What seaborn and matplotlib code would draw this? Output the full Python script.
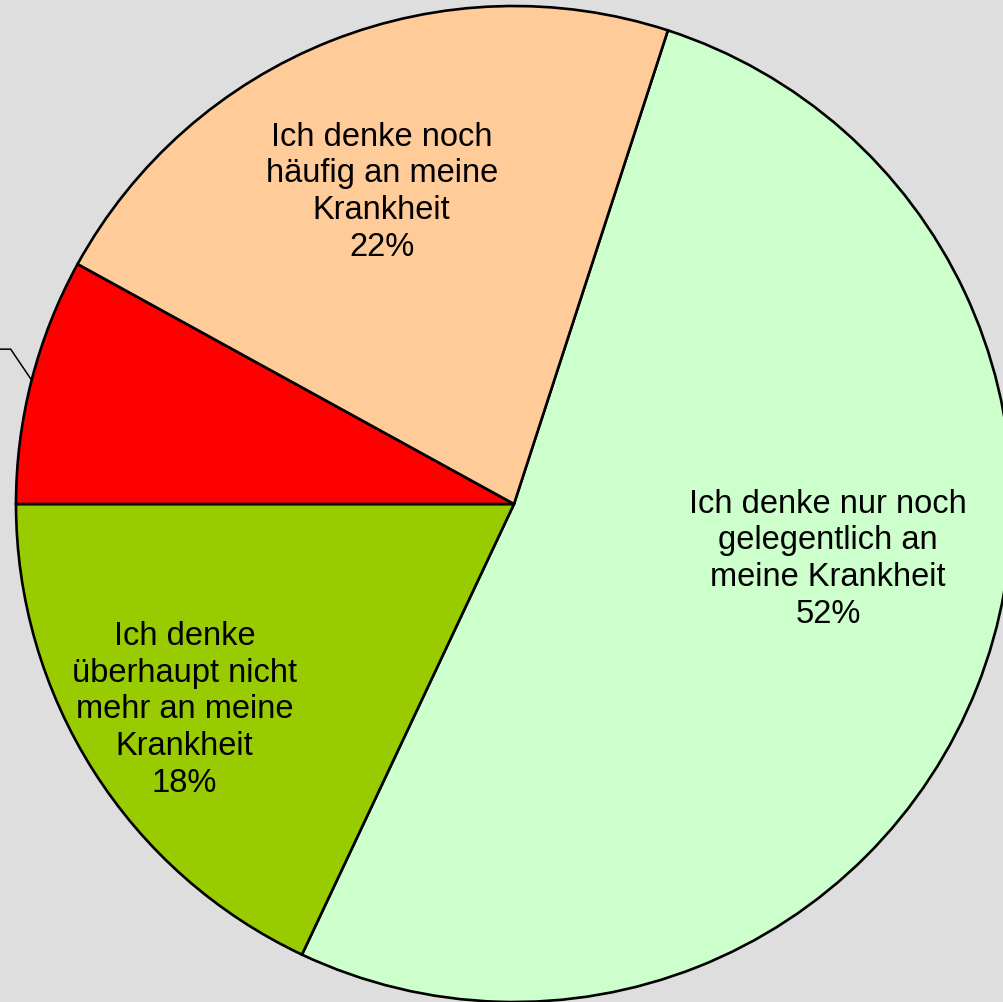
import numpy as np
import matplotlib
matplotlib.use("Agg")
import matplotlib.pyplot as plt
import seaborn as sns

# slices, clockwise from the top-right boundary
labels = [
    "Ich denke nur noch\ngelegentlich an\nmeine Krankheit",
    "Ich denke\nüberhaupt nicht\nmehr an meine\nKrankheit",
    "",
    "Ich denke noch\nhäufig an meine\nKrankheit",
]
shares = [52, 18, 8, 22]
colors = ["#CCFFCC", "#99CC00", "#FF0000", "#FFCC99"]

sns.set_style("white")
plt.rcParams["font.family"] = ["Liberation Sans", "DejaVu Sans"]

fig = plt.figure(figsize=(10.04, 10.02), dpi=100)
fig.patch.set_facecolor("#DEDEDE")
ax = fig.add_axes([0, 0, 1, 1])
ax.set_facecolor("#DEDEDE")

cx, cy, r = 514, 498, 498
wedges, _ = ax.pie(shares, colors=colors, startangle=72, counterclock=False,
                   center=(cx, cy), radius=r, frame=True,
                   wedgeprops=dict(edgecolor="black", linewidth=1.9))
ax.set_xlim(0, 1004)
ax.set_ylim(0, 1002)
ax.set_aspect("equal")
ax.axis("off")

# label placement: fraction of radius and angle (deg) for each slice
label_pos = [(0.64, -10), (0.78, 212), None, (0.68, 113)]
for w, lab, s, pos in zip(wedges, labels, shares, label_pos):
    if pos is None:
        # leader line to a label outside the visible area
        mid = np.deg2rad((w.theta1 + w.theta2) / 2)
        p0 = (cx + r * np.cos(mid), cy + r * np.sin(mid))
        p1 = (p0[0] - 21, p0[1] + 31)
        ax.plot([p0[0], p1[0], p1[0] - 30], [p0[1], p1[1], p1[1]],
                color="black", lw=1.1, clip_on=False)
        continue
    f, a = pos
    a = np.deg2rad(a)
    ax.text(cx + f * r * np.cos(a), cy + f * r * np.sin(a), f"{lab}\n{s}%",
            ha="center", va="center", fontsize=23.5, linespacing=1.24,
            color="black")

fig.savefig("out.png", dpi=100, facecolor=fig.get_facecolor())
